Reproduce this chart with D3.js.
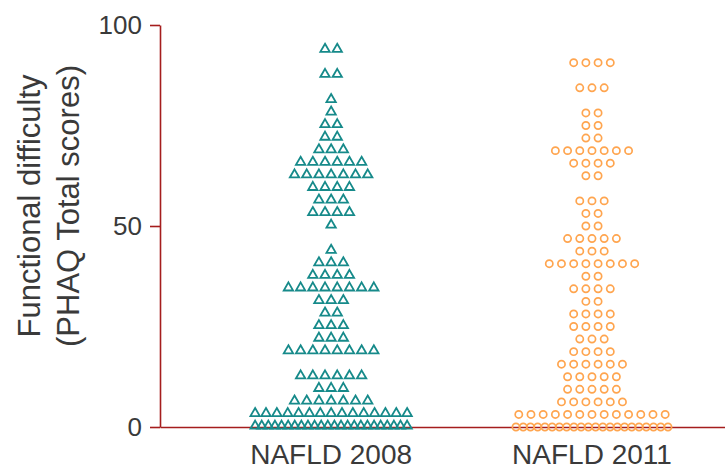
<!DOCTYPE html>
<html>
<head>
<meta charset="utf-8">
<script src="https://cdn.jsdelivr.net/npm/d3@7"></script>
<style>
  body { margin: 0; background: #fff; }
  svg { display: block; font-family: "Liberation Sans", Arial, sans-serif; }
</style>
</head>
<body>
<svg></svg>
<script>
// group names on the x axis
const groups = ["NAFLD 2008", "NAFLD 2011"];

// PHAQ total scores, one entry per patient (score steps of 3.125)
const scores2008 = [
  93.75, 93.75,
  87.5, 87.5,
  81.25,
  78.125,
  75, 75,
  71.875, 71.875,
  68.75, 68.75, 68.75,
  65.625, 65.625, 65.625, 65.625, 65.625, 65.625,
  62.5, 62.5, 62.5, 62.5, 62.5, 62.5, 62.5,
  59.375, 59.375, 59.375, 59.375,
  56.25, 56.25, 56.25,
  53.125, 53.125, 53.125, 53.125,
  50,
  43.75,
  40.625, 40.625, 40.625,
  37.5, 37.5, 37.5, 37.5,
  34.375, 34.375, 34.375, 34.375, 34.375, 34.375, 34.375, 34.375,
  31.25, 31.25, 31.25,
  28.125, 28.125,
  25, 25, 25,
  21.875, 21.875, 21.875,
  18.75, 18.75, 18.75, 18.75, 18.75, 18.75, 18.75, 18.75,
  12.5, 12.5, 12.5, 12.5, 12.5, 12.5,
  9.375, 9.375, 9.375,
  6.25, 6.25, 6.25, 6.25, 6.25, 6.25, 6.25,
  3.125, 3.125, 3.125, 3.125, 3.125, 3.125, 3.125, 3.125,
  3.125, 3.125, 3.125, 3.125, 3.125, 3.125, 3.125,
  0, 0, 0, 0, 0, 0, 0, 0, 0, 0, 0, 0,
  0, 0, 0, 0, 0, 0, 0, 0, 0, 0, 0, 0
];

const scores2011 = [
  90.625, 90.625, 90.625, 90.625,
  84.375, 84.375, 84.375,
  78.125, 78.125,
  75, 75,
  71.875, 71.875,
  68.75, 68.75, 68.75, 68.75, 68.75, 68.75, 68.75,
  65.625, 65.625, 65.625, 65.625,
  62.5, 62.5,
  56.25, 56.25, 56.25,
  53.125, 53.125,
  50, 50,
  46.875, 46.875, 46.875, 46.875, 46.875,
  43.75, 43.75, 43.75,
  40.625, 40.625, 40.625, 40.625, 40.625, 40.625, 40.625, 40.625,
  37.5, 37.5,
  34.375, 34.375, 34.375, 34.375,
  31.25, 31.25,
  28.125, 28.125, 28.125, 28.125,
  25, 25, 25, 25,
  21.875, 21.875, 21.875,
  18.75, 18.75, 18.75, 18.75,
  15.625, 15.625, 15.625, 15.625, 15.625, 15.625,
  12.5, 12.5, 12.5, 12.5, 12.5,
  9.375, 9.375, 9.375, 9.375, 9.375,
  6.25, 6.25, 6.25, 6.25, 6.25, 6.25,
  3.125, 3.125, 3.125, 3.125, 3.125, 3.125, 3.125,
  3.125, 3.125, 3.125, 3.125, 3.125, 3.125,
  0, 0, 0, 0, 0, 0, 0, 0, 0, 0, 0,
  0, 0, 0, 0, 0, 0, 0, 0, 0, 0, 0
];

const yTicks = [0, 50, 100];

const svgWidth = 725;
const svgHeight = 470;
const axisColor = "#a51d1d";
const textColor = "#3a3a3a";
const pointGap = 12.2;   // distance between neighbours in one row
const rowMax = 152;      // widest a row may get before it squeezes

const svg = d3
  .select("svg")
  .attr("width", svgWidth)
  .attr("height", svgHeight);

const yScale = d3
  .scaleLinear()
  .domain([0, 100])
  .range([427, 25]);

const xScale = d3
  .scaleBand()
  .domain(groups)
  .range([160, 725])
  .paddingInner(0)
  .paddingOuter(0.083)
  .align(0.94);

// lay the points of one group out in rows, one row per score
function layout(values, group) {
  const cx = xScale(group) + xScale.bandwidth() / 2;
  const rows = d3.group(values, d => d);
  const pts = [];
  rows.forEach((vals, v) => {
    const n = vals.length;
    const gap = n > 1 ? Math.min(pointGap, rowMax / (n - 1)) : 0;
    vals.forEach((d, i) => {
      pts.push({ x: cx + (i - (n - 1) / 2) * gap, y: yScale(v) });
    });
  });
  return pts;
}

// x axis line + group labels
const x_axis = d3.axisBottom(xScale).tickSize(0).tickSizeOuter(0).tickPadding(17);
const gx = svg
  .append("g")
  .attr("transform", "translate(0," + yScale(0) + ")")
  .call(x_axis);
gx.select(".domain").attr("stroke", axisColor).attr("stroke-width", 1.6);
gx.selectAll("text")
  .attr("fill", textColor)
  .style("font-size", "28px");

// y axis
const y_axis = d3
  .axisLeft(yScale)
  .tickValues(yTicks)
  .tickSize(10)
  .tickSizeOuter(0)
  .tickPadding(8);
const gy = svg
  .append("g")
  .attr("transform", "translate(160,0)")
  .call(y_axis);
gy.select(".domain").attr("stroke", axisColor).attr("stroke-width", 1.6);
gy.selectAll(".tick line").attr("stroke", axisColor).attr("stroke-width", 1.6);
gy.selectAll("text")
  .attr("fill", textColor)
  .style("font-size", "26px");

// y title, two lines
const title = svg
  .append("text")
  .attr("transform", "rotate(-90)")
  .attr("text-anchor", "middle")
  .attr("fill", textColor)
  .style("font-size", "31px");
title.append("tspan").attr("x", -206).attr("y", 40).text("Functional difficulty");
title.append("tspan").attr("x", -206).attr("y", 79).text("(PHAQ Total scores)");

// NAFLD 2008: open triangles
svg
  .append("g")
  .selectAll("path")
  .data(layout(scores2008, groups[0]))
  .enter()
  .append("path")
  .attr("d", d3.symbol(d3.symbolTriangle, 38))
  .attr("transform", d => "translate(" + d.x + "," + (d.y - 1) + ")")
  .attr("fill", "none")
  .attr("stroke", "#168a8a")
  .attr("stroke-width", 1.8);

// NAFLD 2011: open circles
svg
  .append("g")
  .selectAll("circle")
  .data(layout(scores2011, groups[1]))
  .enter()
  .append("circle")
  .attr("cx", d => d.x)
  .attr("cy", d => d.y)
  .attr("r", 3.6)
  .attr("fill", "none")
  .attr("stroke", "#ffa54f")
  .attr("stroke-width", 1.7);
</script>
</body>
</html>
